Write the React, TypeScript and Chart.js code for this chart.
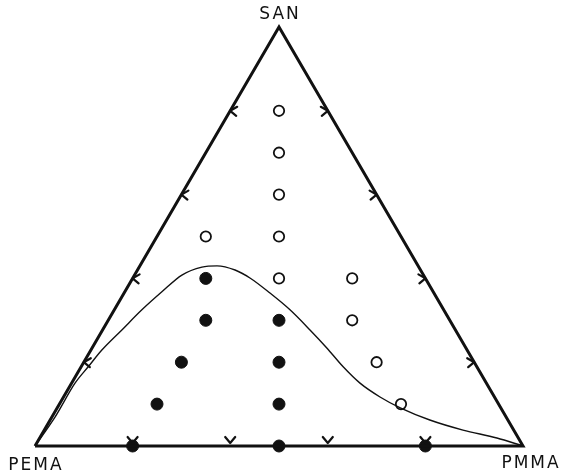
import React, { useEffect, useRef } from "react";
import { Chart, registerables } from "chart.js";

Chart.register(...registerables);

// Compositions in percent (SAN, PMMA); PEMA = 100 - SAN - PMMA
const openSAN = [80, 70, 60, 50, 50, 40, 40, 30, 20, 10];
const openPMMA = [10, 15, 20, 25, 10, 30, 45, 50, 60, 70];

const filledSAN = [40, 30, 30, 20, 20, 10, 10, 0, 0, 0];
const filledPMMA = [15, 20, 35, 20, 40, 20, 45, 20, 50, 80];

const curveSAN = [0, 6.9, 15, 18.9, 22.9, 27.7, 32.5, 36.8, 40.8, 42.7, 43, 42, 40.1, 36.5, 32.5, 27.7, 23.4, 18.9, 15, 11.7, 9.1, 6.2, 3.8, 1.9, 0];
const curvePMMA = [0, 0.65, 0.7, 1.45, 2.25, 3.95, 5.65, 7.6, 9.7, 12.85, 15.8, 20, 24, 29.9, 36, 42.5, 48.1, 53.7, 59.1, 64.85, 70.3, 77.8, 85.8, 93.7, 100];

const cornerLabels = ["PEMA", "PMMA", "SAN"];
const cornerSAN = [0, 0, 100];
const cornerPMMA = [0, 100, 0];

const edgeTicks = [20, 40, 60, 80];

const toXY = (san: number, pmma: number) => ({ x: pmma + san / 2, y: san });

const ternaryPlugin = {
  id: "ternaryDecor",
  afterDatasetsDraw(chart: any) {
    const { ctx, scales } = chart;
    const px = (san: number, pmma: number) => {
      const p = toXY(san, pmma);
      return [scales.x.getPixelForValue(p.x), scales.y.getPixelForValue(p.y)];
    };
    ctx.save();
    ctx.strokeStyle = "#111";
    ctx.lineWidth = 2.2;
    ctx.lineCap = "round";
    ctx.lineJoin = "round";
    edgeTicks.forEach((t) => {
      // left edge (PEMA-SAN): "<" chevron
      let [x, y] = px(t, 0);
      ctx.beginPath();
      ctx.moveTo(x + 7, y - 4);
      ctx.lineTo(x, y);
      ctx.lineTo(x + 6, y + 5);
      ctx.stroke();
      // right edge (PMMA-SAN): ">" chevron
      [x, y] = px(t, 100 - t);
      ctx.beginPath();
      ctx.moveTo(x - 7, y - 4);
      ctx.lineTo(x, y);
      ctx.lineTo(x - 6, y + 5);
      ctx.stroke();
      // base (PEMA-PMMA): "v" chevron
      [x, y] = px(0, t);
      ctx.beginPath();
      ctx.moveTo(x - 5, y - 9);
      ctx.lineTo(x, y - 3);
      ctx.lineTo(x + 5, y - 9);
      ctx.stroke();
    });
    // corner labels
    ctx.fillStyle = "#111";
    ctx.font = '17px "DejaVu Sans"';
    (ctx as any).letterSpacing = "2px";
    ctx.textBaseline = "middle";
    ctx.textAlign = "center";
    cornerLabels.forEach((lab, i) => {
      const [x, y] = px(cornerSAN[i], cornerPMMA[i]);
      if (i === 0) {
        ctx.fillText(lab, x + 1, y + 20);
      } else if (i === 1) {
        ctx.fillText(lab, x + 8, y + 18);
      } else {
        ctx.fillText(lab, x + 1, y - 12);
      }
    });
    ctx.restore();
  },
};

export default function App() {
  const ref = useRef<HTMLCanvasElement>(null);
  useEffect(() => {
    if (!ref.current) return;
    const triangle = [0, 1, 2, 0].map((i) => toXY(cornerSAN[i], cornerPMMA[i]));
    const chart = new Chart(ref.current, {
      type: "scatter",
      data: {
        datasets: [
          {
            data: triangle,
            showLine: true,
            borderColor: "#111",
            borderWidth: 3,
            borderJoinStyle: "miter",
            pointRadius: 0,
            clip: false,
          } as any,
          {
            data: curveSAN.map((s, i) => toXY(s, curvePMMA[i])),
            showLine: true,
            borderColor: "#111",
            borderWidth: 1.4,
            cubicInterpolationMode: "monotone",
            pointRadius: 0,
            clip: false,
          } as any,
          {
            data: openSAN.map((s, i) => toXY(s, openPMMA[i])),
            pointRadius: 5.2,
            pointBackgroundColor: "#fff",
            pointBorderColor: "#111",
            pointBorderWidth: 1.8,
            clip: false,
          } as any,
          {
            data: filledSAN.map((s, i) => toXY(s, filledPMMA[i])),
            pointRadius: 6,
            pointBackgroundColor: "#111",
            pointBorderColor: "#111",
            pointBorderWidth: 1,
            clip: false,
          } as any,
        ],
      },
      options: {
        animation: false,
        responsive: false,
        layout: { padding: { left: 35, right: 38, top: 27, bottom: 29 } },
        plugins: { legend: { display: false }, tooltip: { enabled: false } },
        scales: {
          x: { type: "linear", min: 0, max: 100, display: false },
          y: { type: "linear", min: 0, max: 100, display: false },
        },
      },
      plugins: [ternaryPlugin],
    });
    return () => chart.destroy();
  }, []);
  return (
    <div style={{ position: "absolute", left: 0, top: 0, width: 561, height: 475, background: "#fff" }}>
      <canvas ref={ref} width={561} height={475} style={{ display: "block" }} />
    </div>
  );
}
